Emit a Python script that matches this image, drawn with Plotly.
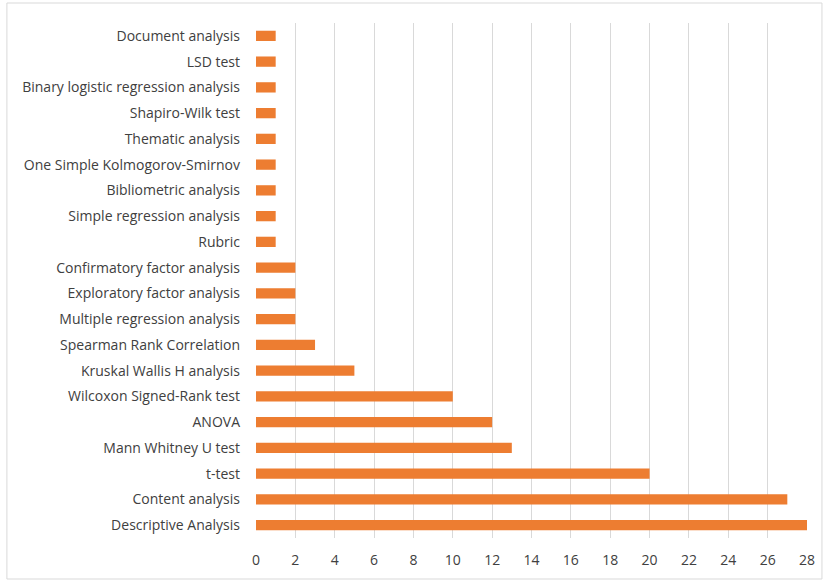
import plotly.graph_objects as go

# Statistical / analytical methods and how often each was used
methods = [
    "Descriptive Analysis",
    "Content analysis",
    "t-test",
    "Mann Whitney U test",
    "ANOVA",
    "Wilcoxon Signed-Rank test",
    "Kruskal Wallis H analysis",
    "Spearman Rank Correlation",
    "Multiple regression analysis",
    "Exploratory factor analysis",
    "Confirmatory factor analysis",
    "Rubric",
    "Simple regression analysis",
    "Bibliometric analysis",
    "One Simple Kolmogorov-Smirnov",
    "Thematic analysis",
    "Shapiro-Wilk test",
    "Binary logistic regression analysis",
    "LSD test",
    "Document analysis",
]
counts = [28, 27, 20, 13, 12, 10, 5, 3, 2, 2, 2, 1, 1, 1, 1, 1, 1, 1, 1, 1]
x_ticks = list(range(0, 29, 2))

fig = go.Figure(
    go.Bar(
        x=counts,
        y=methods,
        orientation="h",
        width=0.4,
        marker=dict(color="#ED7D31", line=dict(width=0)),
        hoverinfo="x+y",
    )
)

font_main = "Open Sans, Liberation Sans, Arial, sans-serif"

fig.update_layout(
    width=827,
    height=582,
    paper_bgcolor="white",
    plot_bgcolor="white",
    margin=dict(l=256, r=18, t=23, b=44),
    showlegend=False,
    font=dict(family=font_main, size=14, color="#404040"),
    xaxis=dict(
        range=[0, 28],
        tickvals=x_ticks,
        ticktext=[str(v) for v in x_ticks],
        showgrid=True,
        gridcolor="#D9D9D9",
        gridwidth=1,
        zeroline=False,
        showline=False,
        ticks="",
        ticklabelstandoff=12,
        fixedrange=True,
    ),
    yaxis=dict(
        categoryorder="array",
        categoryarray=methods,
        range=[-0.5, len(methods) - 0.5],
        showgrid=False,
        zeroline=False,
        showline=False,
        ticks="",
        ticklabelstandoff=15,
        fixedrange=True,
    ),
    shapes=[
        dict(
            type="rect",
            xref="paper",
            yref="paper",
            x0=-250 / 553,
            x1=1 + 15 / 553,
            y0=-41 / 515,
            y1=1 + 20 / 515,
            line=dict(color="#D9D9D9", width=1),
            fillcolor="rgba(0,0,0,0)",
            layer="below",
        )
    ],
)

fig.write_html("out.html")
